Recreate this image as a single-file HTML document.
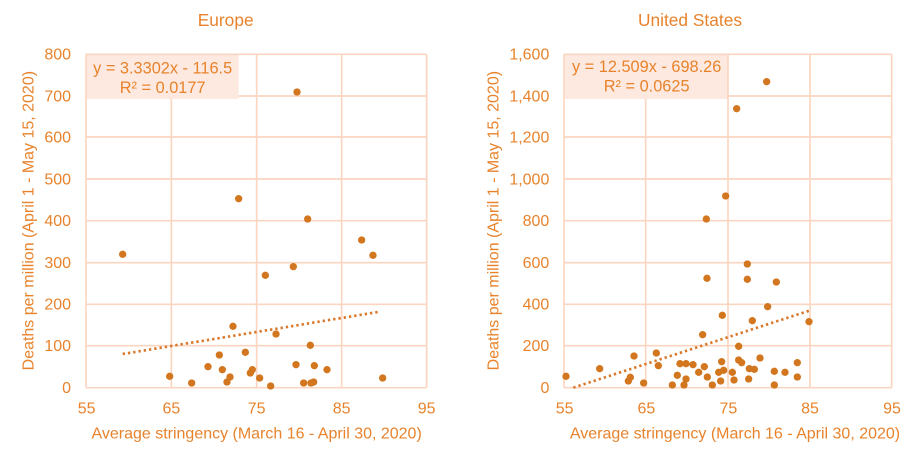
<!DOCTYPE html>
<html><head><meta charset="utf-8"><style>
html,body{margin:0;padding:0;background:#fff;width:917px;height:452px;overflow:hidden}
svg{display:block}
text{font-family:"Liberation Sans",sans-serif;fill:#E8832C}
</style></head><body>
<svg width="917" height="452" viewBox="0 0 917 452">
<!-- LEFT -->
<g transform="scale(0.33333)">
<rect x="260" y="165" width="456" height="132" fill="#FDE9DF"/>
<g stroke="#FBD5C0" stroke-width="5" fill="none">
<line x1="258" y1="163" x2="1280" y2="163"/><line x1="716" y1="288" x2="1280" y2="288"/><line x1="258" y1="411" x2="1280" y2="411"/>
<line x1="258" y1="537" x2="1280" y2="537"/><line x1="258" y1="662" x2="1280" y2="662"/><line x1="258" y1="788" x2="1280" y2="788"/>
<line x1="258" y1="913" x2="1280" y2="913"/><line x1="258" y1="1037" x2="1280" y2="1037"/><line x1="258" y1="1163" x2="1280" y2="1163"/>
<line x1="258" y1="163" x2="258" y2="1163"/><line x1="514" y1="297" x2="514" y2="1163"/><line x1="770" y1="163" x2="770" y2="1163"/>
<line x1="1025" y1="163" x2="1025" y2="1163"/><line x1="1280" y1="163" x2="1280" y2="1163"/>
</g>
<line x1="368" y1="1062" x2="1140" y2="935" stroke="#D9782A" stroke-width="8" stroke-dasharray="7 9"/>
<g fill="#D2771F">
<circle cx="368" cy="763" r="11"/><circle cx="509" cy="1129" r="11"/><circle cx="575" cy="1149" r="11"/><circle cx="624" cy="1100" r="11"/><circle cx="658" cy="1065" r="11"/><circle cx="667" cy="1109" r="11"/><circle cx="681" cy="1146" r="11"/><circle cx="690" cy="1131" r="11"/><circle cx="699" cy="979" r="11"/><circle cx="716" cy="596" r="11"/><circle cx="736" cy="1057" r="11"/><circle cx="751" cy="1119" r="11"/><circle cx="757" cy="1109" r="11"/><circle cx="779" cy="1134" r="11"/><circle cx="796" cy="826" r="11"/><circle cx="812" cy="1158" r="11"/><circle cx="828" cy="1002" r="11"/><circle cx="880" cy="800" r="11"/><circle cx="888" cy="1094" r="11"/><circle cx="891" cy="276" r="11"/><circle cx="911" cy="1149" r="11"/><circle cx="923" cy="657" r="11"/><circle cx="931" cy="1036" r="11"/><circle cx="933" cy="1149" r="11"/><circle cx="941" cy="1146" r="11"/><circle cx="943" cy="1097" r="11"/><circle cx="981" cy="1109" r="11"/><circle cx="1085" cy="720" r="11"/><circle cx="1119" cy="766" r="11"/><circle cx="1148" cy="1134" r="11"/>
</g>
<text x="677" y="78" font-size="52" text-anchor="middle">Europe</text>
<text x="488" y="221" font-size="49" text-anchor="middle">y = 3.3302x - 116.5</text>
<text x="488" y="279" font-size="49" text-anchor="middle">R² = 0.0177</text>
<g font-size="48" text-anchor="end">
<text x="213" y="179">800</text><text x="213" y="304">700</text><text x="213" y="428">600</text><text x="213" y="553">500</text><text x="213" y="678">400</text><text x="213" y="804">300</text><text x="213" y="929">200</text><text x="213" y="1053">100</text><text x="213" y="1179">0</text>
</g>
<g font-size="48" text-anchor="middle">
<text x="260" y="1241">55</text><text x="514" y="1241">65</text><text x="770" y="1241">75</text><text x="1025" y="1241">85</text><text x="1280" y="1241">95</text>
</g>
<text x="770" y="1316" font-size="48" text-anchor="middle">Average stringency (March 16 - April 30, 2020)</text>
<text transform="translate(100,662) rotate(-90)" font-size="48" text-anchor="middle">Deaths per million (April 1 - May 15, 2020)</text>
</g>
<!-- RIGHT -->
<g transform="translate(460,0) scale(0.33333)">
<rect x="315" y="165" width="490" height="132" fill="#FDE9DF"/>
<g stroke="#FBD5C0" stroke-width="5" fill="none">
<line x1="312" y1="163" x2="1295" y2="163"/><line x1="805" y1="288" x2="1295" y2="288"/><line x1="312" y1="411" x2="1295" y2="411"/>
<line x1="312" y1="537" x2="1295" y2="537"/><line x1="312" y1="662" x2="1295" y2="662"/><line x1="312" y1="788" x2="1295" y2="788"/>
<line x1="312" y1="913" x2="1295" y2="913"/><line x1="312" y1="1037" x2="1295" y2="1037"/><line x1="312" y1="1163" x2="1295" y2="1163"/>
<line x1="312" y1="163" x2="312" y2="1163"/><line x1="557" y1="297" x2="557" y2="1163"/><line x1="804" y1="163" x2="804" y2="1163"/>
<line x1="1050" y1="163" x2="1050" y2="1163"/><line x1="1295" y1="163" x2="1295" y2="1163"/>
</g>
<line x1="340" y1="1163" x2="1048" y2="932" stroke="#D9782A" stroke-width="8" stroke-dasharray="7 9"/>
<g fill="#D2771F">
<circle cx="318" cy="1129" r="11"/><circle cx="419" cy="1106" r="11"/><circle cx="505" cy="1143" r="11"/><circle cx="511" cy="1132" r="11"/><circle cx="522" cy="1068" r="11"/><circle cx="551" cy="1149" r="11"/><circle cx="589" cy="1059" r="11"/><circle cx="595" cy="1097" r="11"/><circle cx="637" cy="1155" r="11"/><circle cx="652" cy="1126" r="11"/><circle cx="660" cy="1091" r="11"/><circle cx="672" cy="1155" r="11"/><circle cx="678" cy="1091" r="11"/><circle cx="678" cy="1137" r="11"/><circle cx="699" cy="1094" r="11"/><circle cx="716" cy="1117" r="11"/><circle cx="728" cy="1004" r="11"/><circle cx="733" cy="1100" r="11"/><circle cx="739" cy="657" r="11"/><circle cx="741" cy="835" r="11"/><circle cx="742" cy="1131" r="11"/><circle cx="757" cy="1155" r="11"/><circle cx="776" cy="1117" r="11"/><circle cx="782" cy="1143" r="11"/><circle cx="785" cy="1085" r="11"/><circle cx="787" cy="946" r="11"/><circle cx="791" cy="1111" r="11"/><circle cx="797" cy="588" r="11"/><circle cx="817" cy="1117" r="11"/><circle cx="822" cy="1140" r="11"/><circle cx="830" cy="326" r="11"/><circle cx="836" cy="1039" r="11"/><circle cx="836" cy="1080" r="11"/><circle cx="845" cy="1088" r="11"/><circle cx="862" cy="792" r="11"/><circle cx="862" cy="838" r="11"/><circle cx="866" cy="1137" r="11"/><circle cx="868" cy="1106" r="11"/><circle cx="877" cy="962" r="11"/><circle cx="883" cy="1108" r="11"/><circle cx="900" cy="1074" r="11"/><circle cx="920" cy="245" r="11"/><circle cx="923" cy="920" r="11"/><circle cx="943" cy="1114" r="11"/><circle cx="943" cy="1155" r="11"/><circle cx="949" cy="846" r="11"/><circle cx="975" cy="1117" r="11"/><circle cx="1012" cy="1088" r="11"/><circle cx="1012" cy="1131" r="11"/><circle cx="1047" cy="965" r="11"/>
</g>
<text x="690" y="78" font-size="52" text-anchor="middle">United States</text>
<text x="560" y="216" font-size="49" text-anchor="middle">y = 12.509x - 698.26</text>
<text x="560" y="274" font-size="49" text-anchor="middle">R² = 0.0625</text>
<g font-size="48" text-anchor="end">
<text x="268" y="179">1,600</text><text x="268" y="304">1,400</text><text x="268" y="428">1,200</text><text x="268" y="553">1,000</text><text x="268" y="678">800</text><text x="268" y="804">600</text><text x="268" y="929">400</text><text x="268" y="1053">200</text><text x="268" y="1179">0</text>
</g>
<g font-size="48" text-anchor="middle">
<text x="314" y="1241">55</text><text x="559" y="1241">65</text><text x="805" y="1241">75</text><text x="1050" y="1241">85</text><text x="1296" y="1241">95</text>
</g>
<text x="825" y="1316" font-size="48" text-anchor="middle">Average stringency (March 16 - April 30, 2020)</text>
<text transform="translate(115,662) rotate(-90)" font-size="48" text-anchor="middle">Deaths per million (April 1 - May 15, 2020)</text>
</g>
</svg>
</body></html>
